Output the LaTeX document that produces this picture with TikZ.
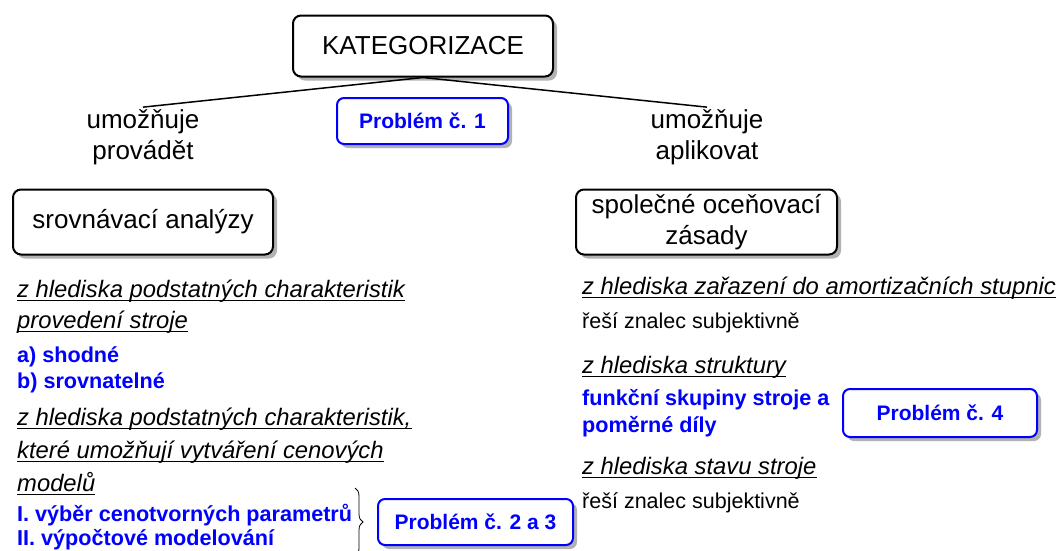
\documentclass[tikz,border=0pt]{standalone}
\usepackage{fontspec}
\setmainfont{Liberation Sans}
\usetikzlibrary{shadows, decorations.pathreplacing}

\tikzset{
  mainbox/.style={draw, line width=2pt, rounded corners=8pt, fill=white, align=center,
    drop shadow={shadow xshift=4pt, shadow yshift=-4pt, fill=black!30, opacity=1},
    font=\fontsize{26}{31}\selectfont},
  probbox/.style={draw=blue, line width=2pt, rounded corners=7pt, fill=white, text=blue,
    drop shadow={shadow xshift=4pt, shadow yshift=-4pt, fill=black!30, opacity=1},
    font=\fontsize{21}{25}\bfseries},
  verb/.style={align=center, inner sep=2pt, font=\fontsize{26}{31}\selectfont},
  crit/.style={anchor=west, inner sep=0pt, font=\fontsize{23.8}{31}\itshape},
  note/.style={anchor=west, inner sep=0pt, font=\fontsize{21.5}{24}\selectfont},
  item/.style={anchor=west, inner sep=0pt, align=left, text=blue, font=\fontsize{21.6}{26}\bfseries}
}

\begin{document}
\begin{tikzpicture}[x=1pt, y=-1pt]
\useasboundingbox (0,0) rectangle (1059,550);
%\draw[help lines, color=gray!30] (0,0) grid[step=50] (1059,550);

% top
\node [mainbox, minimum width=260pt, minimum height=61pt] (kat) at (423,46) {KATEGORIZACE};
\node [probbox, minimum width=171pt, minimum height=46pt] (p1) at (422.5,121) {Problém č. 1};
\node [verb] (lprov) at (143,137) {umožňuje\\provádět};
\node [verb] (lapl) at (707,137) {umožňuje\\aplikovat};
\draw [line width=1.5pt] (kat.south) -- (lprov.north);
\draw [line width=1.5pt] (kat.south) -- (lapl.north);

\node [mainbox, minimum width=260pt, minimum height=65pt] (sa) at (143,222) {srovnávací analýzy};
\node [mainbox, minimum width=261pt, minimum height=65pt] (so) at (706.5,222) {společné oceňovací\\zásady};

% left column
\node [crit] (c1a) at (17,291) {z hlediska podstatných charakteristik};
\node [crit] (c1b) at (17,322) {provedení stroje};
\node [item, font=\fontsize{21.6}{26}\bfseries] (i1) at (17,370) {a) shodné\\b) srovnatelné};
\node [crit] (c2a) at (17,419) {z hlediska podstatných charakteristik,};
\node [crit] (c2b) at (17,452) {které umožňují vytváření cenových};
\node [crit] (c2c) at (17,482) {modelů};
\node [item, font=\fontsize{21.6}{23.5}\bfseries] (i2) at (17,527) {I. výběr cenotvorných parametrů\\II. výpočtové modelování};
\coordinate (brtop) at (355,488);
\coordinate (brbot) at (355,556);
\draw [thick, decorate, decoration={brace, amplitude=8pt}] (brtop) -- (brbot);
\node [probbox, minimum width=195pt, minimum height=46pt] (p23) at (475.5,522) {Problém č. 2 a 3};

% right column
\node [crit] (c3) at (582,288) {z hlediska zařazení do amortizačních stupnic};
\node [note] (n1) at (582,323) {řeší znalec subjektivně};
\node [crit] (c4) at (582,367) {z hlediska struktury};
\node [item, font=\fontsize{21.6}{27}\bfseries] (i3) at (582,413) {funkční skupiny stroje a\\poměrné díly};
\node [probbox, minimum width=194pt, minimum height=48pt] (p4) at (940,413) {Problém č. 4};
\node [crit] (c5) at (582,468) {z hlediska stavu stroje};
\node [note] (n2) at (582,503) {řeší znalec subjektivně};

% underlines
\foreach \n in {c1a,c1b,c2a,c2b,c2c,c3,c4,c5}
  \draw [line width=1.1pt] ([yshift=-3pt]\n.base west) -- ([yshift=-3pt]\n.base east);
\end{tikzpicture}
\end{document}
